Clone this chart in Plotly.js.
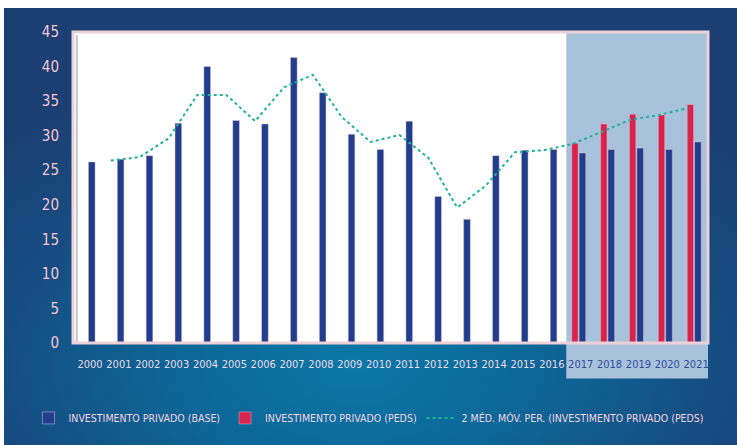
<!DOCTYPE html>
<html>
<head>
<meta charset="utf-8">
<script src="https://cdn.plot.ly/plotly-3.0.1.min.js"></script>
<style>
  html, body { margin: 0; padding: 0; background: #ffffff; width: 737px; height: 445px; overflow: hidden; }
  #bg { position: absolute; left: 4px; top: 8px; width: 733px; height: 437px;
        background: radial-gradient(ellipse 75% 70% at 48% 82%, #0a78a8 0%, #0d6596 35%, #164d82 65%, #1b3f72 100%); }
  #chart { position: absolute; left: 0; top: 0; width: 737px; height: 445px; }
</style>
</head>
<body>
<div id="bg"></div>
<div id="chart"></div>
<script>
const years = ["2000","2001","2002","2003","2004","2005","2006","2007","2008","2009","2010",
               "2011","2012","2013","2014","2015","2016","2017","2018","2019","2020","2021"];
const forecastYears = ["2017","2018","2019","2020","2021"];
const investBase = [26.2,26.6,27.1,31.8,40.0,32.2,31.7,41.3,36.2,30.2,28.0,
                    32.1,21.2,17.9,27.1,27.9,28.0,27.5,28.0,28.2,28.0,29.1];
const investPeds = [null,null,null,null,null,null,null,null,null,null,null,
                    null,null,null,null,null,null,28.9,31.7,33.1,33.0,34.5];
const movAvg = [null,26.4,26.9,29.6,35.9,35.9,32.1,37.0,38.8,32.7,29.1,
                30.1,26.8,19.6,22.8,27.6,27.9,28.8,30.6,32.3,33.0,34.0];
const yTicks = [0,5,10,15,20,25,30,35,40,45];
const names = ["INVESTIMENTO PRIVADO (BASE)", "INVESTIMENTO PRIVADO (PEDS)",
               "2 MÉD. MÓV. PER. (INVESTIMENTO PRIVADO (PEDS)"];

const FONT = "DejaVu Sans Condensed, Liberation Sans Narrow, Arial Narrow, sans-serif";
const tickText = years.map(y => forecastYears.includes(y)
  ? '<span style="color:#2f4c9c">' + y + '</span>' : y);

const xRange = [-0.59, 21.41];
const lineShift = 0.28;

const traces = [
  { type: 'bar', name: names[1], x: years, y: investPeds, legendrank: 2,
    width: 0.22, offset: -0.31,
    marker: { color: '#d8244c', line: { color: 'rgba(245,190,205,0.7)', width: 0.6 } } },
  { type: 'bar', name: names[0], x: years, y: investBase, legendrank: 1,
    width: 0.23, offset: -0.055,
    marker: { color: '#1f3f8e', line: { color: 'rgba(245,190,205,0.8)', width: 0.6 } } },
  { type: 'scatter', mode: 'lines', name: names[2], x: years, y: movAvg, legendrank: 3,
    xaxis: 'x2', connectgaps: false,
    line: { color: '#1fb39c', width: 2, dash: 'dot' } }
];

const layout = {
  width: 737, height: 445,
  margin: { l: 73, r: 29, t: 32, b: 98 },
  paper_bgcolor: 'rgba(0,0,0,0)',
  plot_bgcolor: '#ffffff',
  barmode: 'overlay',
  showlegend: true,
  font: { family: FONT, color: '#f2d4de' },
  xaxis: {
    type: 'category', range: xRange, tickmode: 'array', tickvals: years, ticktext: tickText,
    tickangle: 0,
    showgrid: false, zeroline: false, showline: false,
    ticks: 'outside', ticklen: 11, tickcolor: 'rgba(0,0,0,0)',
    tickfont: { family: FONT, size: 11, color: '#ecdbe6' }
  },
  xaxis2: {
    type: 'category', overlaying: 'x', range: [xRange[0] + lineShift, xRange[1] + lineShift],
    showgrid: false, zeroline: false, showline: false, showticklabels: false
  },
  yaxis: {
    range: [0, 45], tickmode: 'array', tickvals: yTicks,
    showgrid: false, zeroline: false, showline: false,
    ticks: 'outside', ticklen: 10, tickcolor: 'rgba(0,0,0,0)',
    tickfont: { family: FONT, size: 15, color: '#f3c6d2' }
  },
  legend: {
    orientation: 'h', x: -0.07, xanchor: 'left', y: -0.241, yanchor: 'middle',
    bgcolor: 'rgba(0,0,0,0)', itemwidth: 30, traceorder: 'normal',
    font: { family: FONT, size: 10.5, color: '#f2d4e0' }
  },
  shapes: [
    { type: 'rect', layer: 'below', xref: 'x', yref: 'paper',
      x0: 16.5, x1: xRange[1], y0: -0.114, y1: 1,
      fillcolor: '#a9c2db', line: { width: 0 } },
    { type: 'line', layer: 'above', xref: 'paper', yref: 'paper',
      x0: 0.006, x1: 0.006, y0: 0, y1: 0.99,
      line: { color: '#c4c4c8', width: 2 } },
    { type: 'rect', layer: 'above', xref: 'paper', yref: 'paper',
      x0: 0, x1: 1, y0: 0, y1: 1,
      line: { color: '#ecd2d8', width: 3 } }
  ]
};

Plotly.newPlot('chart', traces, layout, { displayModeBar: false, staticPlot: true });
</script>
</body>
</html>
